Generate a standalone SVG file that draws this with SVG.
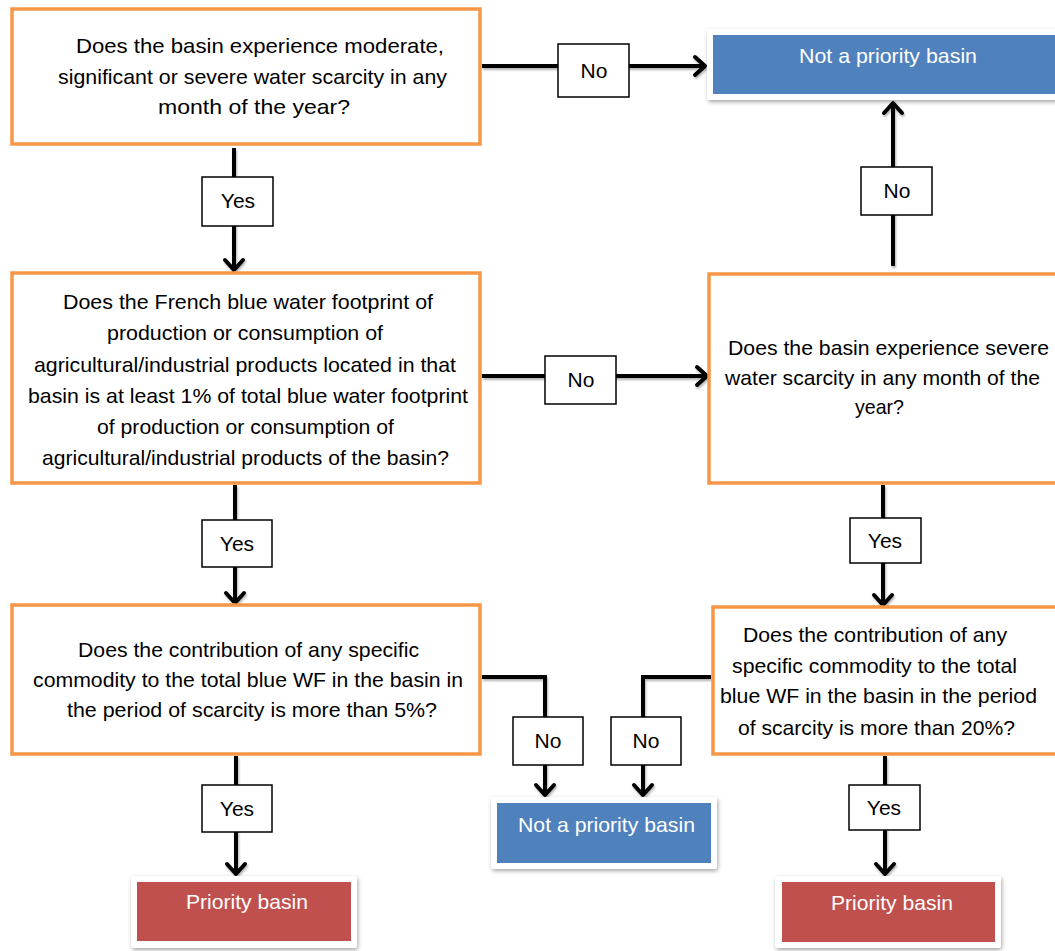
<svg xmlns="http://www.w3.org/2000/svg" width="1055" height="951" viewBox="0 0 1055 951">
<defs>
<style>
.q{fill:#fff;stroke:#F79646;stroke-width:3.5}
.t{font-family:"Liberation Sans",Arial,sans-serif;font-size:21px;fill:#000;text-anchor:middle}
.w{font-family:"Liberation Sans",Arial,sans-serif;font-size:21px;fill:#fff;text-anchor:middle}
.frame{fill:#fff;filter:url(#sh)}
.blue{fill:#4F81BD}
.red{fill:#C0504D}
.lbl{fill:#fff;stroke:#000;stroke-width:1.5}
.c{fill:none;stroke:#000;stroke-width:4;marker-end:url(#ah)}
</style>
<filter id="sh" x="-10%" y="-20%" width="120%" height="150%">
<feDropShadow dx="1" dy="2" stdDeviation="2" flood-color="#000" flood-opacity="0.35"/>
</filter>
<filter id="ls" x="-50%" y="-50%" width="200%" height="200%">
<feDropShadow dx="1" dy="2" stdDeviation="1.2" flood-color="#000" flood-opacity="0.3"/>
</filter>
<marker id="ah" markerUnits="userSpaceOnUse" markerWidth="30" markerHeight="30" viewBox="-15 -15 30 30" refX="0" refY="0" orient="auto">
<path d="M-11,-9 L-1,0 L-11,9" fill="none" stroke="#000" stroke-width="4" stroke-linecap="round" stroke-linejoin="round"/>
</marker>
</defs>
<rect width="1055" height="951" fill="#fff"/>

<g id="connectors" filter="url(#ls)">
<path class="c" d="M482,66 H706"/>
<path class="c" d="M234,148 V271"/>
<path class="c" d="M482,376 H708"/>
<path class="c" d="M893,266 V102"/>
<path class="c" d="M235,485 V604"/>
<path class="c" d="M883,485 V606"/>
<path class="c" d="M482,677 H545 V796"/>
<path class="c" d="M711,677 H643 V796"/>
<path class="c" d="M236,756 V875"/>
<path class="c" d="M885,756 V875"/>
</g>

<g id="labels">
<g id="lbl-no1"><rect class="lbl" x="558" y="44" width="71" height="53"/><text class="t" x="594" y="78">No</text></g>
<g id="lbl-yes1"><rect class="lbl" x="202" y="177" width="71" height="49"/><text class="t" x="238" y="208">Yes</text></g>
<g id="lbl-no2"><rect class="lbl" x="545" y="356" width="71" height="48"/><text class="t" x="581" y="387">No</text></g>
<g id="lbl-no3"><rect class="lbl" x="861" y="167" width="71" height="48"/><text class="t" x="897" y="198">No</text></g>
<g id="lbl-yes2"><rect class="lbl" x="202" y="520" width="70" height="47"/><text class="t" x="237" y="551">Yes</text></g>
<g id="lbl-yes3"><rect class="lbl" x="850" y="518" width="71" height="45"/><text class="t" x="885" y="548">Yes</text></g>
<g id="lbl-no4"><rect class="lbl" x="513" y="717" width="70" height="48"/><text class="t" x="548" y="748">No</text></g>
<g id="lbl-no5"><rect class="lbl" x="611" y="717" width="70" height="48"/><text class="t" x="646" y="748">No</text></g>
<g id="lbl-yes4"><rect class="lbl" x="202" y="785" width="70" height="47"/><text class="t" x="237" y="816">Yes</text></g>
<g id="lbl-yes5"><rect class="lbl" x="849" y="785" width="71" height="45"/><text class="t" x="884" y="815">Yes</text></g>
</g>

<g id="q1">
<rect class="q" x="12" y="9" width="468" height="135"/>
<text class="t" x="260" y="53" textLength="368" lengthAdjust="spacingAndGlyphs">Does the basin experience moderate,</text>
<text class="t" x="252.5" y="84" textLength="389" lengthAdjust="spacingAndGlyphs">significant or severe water scarcity in any</text>
<text class="t" x="254" y="114" textLength="192" lengthAdjust="spacingAndGlyphs">month of the year?</text>
</g>

<g id="q2">
<rect class="q" x="12" y="273" width="468" height="210"/>
<text class="t" x="248" y="309" textLength="370" lengthAdjust="spacingAndGlyphs">Does the French blue water footprint of</text>
<text class="t" x="245" y="340" textLength="276" lengthAdjust="spacingAndGlyphs">production or consumption of</text>
<text class="t" x="245" y="372" textLength="422" lengthAdjust="spacingAndGlyphs">agricultural/industrial products located in that</text>
<text class="t" x="248" y="403" textLength="440" lengthAdjust="spacingAndGlyphs">basin is at least 1% of total blue water footprint</text>
<text class="t" x="245.5" y="434" textLength="297" lengthAdjust="spacingAndGlyphs">of production or consumption of</text>
<text class="t" x="245.5" y="465" textLength="407" lengthAdjust="spacingAndGlyphs">agricultural/industrial products of the basin?</text>
</g>

<g id="q3">
<rect class="q" x="709" y="274" width="360" height="209"/>
<text class="t" x="888.5" y="355" textLength="321" lengthAdjust="spacingAndGlyphs">Does the basin experience severe</text>
<text class="t" x="882.5" y="385" textLength="315" lengthAdjust="spacingAndGlyphs">water scarcity in any month of the</text>
<text class="t" x="879.5" y="414" textLength="49" lengthAdjust="spacingAndGlyphs">year?</text>
</g>

<g id="q4">
<rect class="q" x="12" y="605" width="468" height="149"/>
<text class="t" x="248.5" y="657" textLength="341" lengthAdjust="spacingAndGlyphs">Does the contribution of any specific</text>
<text class="t" x="248" y="687" textLength="430" lengthAdjust="spacingAndGlyphs">commodity to the total blue WF in the basin in</text>
<text class="t" x="252" y="717" textLength="370" lengthAdjust="spacingAndGlyphs">the period of scarcity is more than 5%?</text>
</g>

<g id="q5">
<rect class="q" x="713" y="607" width="360" height="147"/>
<text class="t" x="875" y="642" textLength="264" lengthAdjust="spacingAndGlyphs">Does the contribution of any</text>
<text class="t" x="874.5" y="673" textLength="285" lengthAdjust="spacingAndGlyphs">specific commodity to the total</text>
<text class="t" x="878.5" y="703" textLength="317" lengthAdjust="spacingAndGlyphs">blue WF in the basin in the period</text>
<text class="t" x="876.5" y="735" textLength="277" lengthAdjust="spacingAndGlyphs">of scarcity is more than 20%?</text>
</g>

<g id="notprio-top">
<rect class="frame" x="707" y="29" width="360" height="71" rx="3"/>
<rect class="blue" x="713" y="35" width="360" height="59"/>
<text class="w" x="888" y="63" textLength="178" lengthAdjust="spacingAndGlyphs">Not a priority basin</text>
</g>

<g id="notprio-bottom">
<rect class="frame" x="491" y="797" width="226" height="72" rx="3"/>
<rect class="blue" x="497" y="803" width="214" height="60"/>
<text class="w" x="606.5" y="832" textLength="177" lengthAdjust="spacingAndGlyphs">Not a priority basin</text>
</g>

<g id="prio-left">
<rect class="frame" x="131" y="876" width="226" height="72" rx="3"/>
<rect class="red" x="137" y="882" width="214" height="59"/>
<text class="w" x="247" y="909" textLength="122" lengthAdjust="spacingAndGlyphs">Priority basin</text>
</g>

<g id="prio-right">
<rect class="frame" x="775" y="876" width="226" height="72" rx="3"/>
<rect class="red" x="782" y="882" width="213" height="60"/>
<text class="w" x="892" y="910" textLength="122" lengthAdjust="spacingAndGlyphs">Priority basin</text>
</g>
</svg>
